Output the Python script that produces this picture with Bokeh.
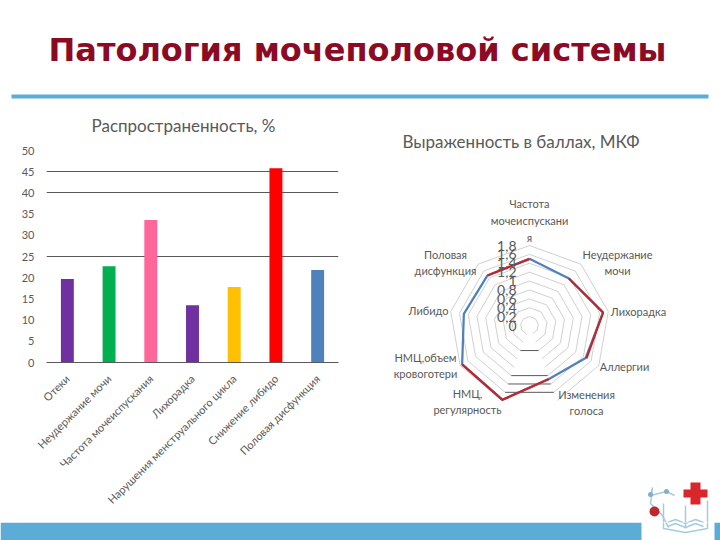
import math
from bokeh.core.properties import value
from bokeh.embed import file_html
from bokeh.layouts import column, row
from bokeh.models import FactorRange, FixedTicker, Range1d
from bokeh.plotting import figure
from bokeh.resources import INLINE

slide_title = "Патология мочеполовой системы"
bar_title = "Распространенность, %"
radar_title = "Выраженность в баллах, МКФ"

bar_categories = ["Отеки", "Неудержание мочи", "Частота мочеиспускания", "Лихорадка",
                  "Нарушения менструального цикла", "Снижение либидо", "Половая дисфункция"]
bar_values = [19.7, 22.7, 33.6, 13.5, 17.8, 45.8, 21.8]
bar_colors = ["#7030A0", "#00B050", "#FF6699", "#7030A0", "#FFC000", "#FF0000", "#4F81BD"]
bar_grid_ticks = [25, 40, 45, 50]
bar_y_ticks = [0, 5, 10, 15, 20, 25, 30, 35, 40, 45, 50]

radar_categories = ["Частота\nмочеиспускани\nя", "Неудержание\nмочи", "Лихорадка", "Аллергии",
                    "Изменения\nголоса", "НМЦ,\nрегулярность", "НМЦ,объем\nкровоготери",
                    "Либидо", "Половая\nдисфункция"]
radar_blue = [1.50, 1.38, 1.68, 1.46, 1.28, 1.78, 1.75, 1.50, 1.47]
radar_red = [1.50, 1.38, 1.68, 1.48, 1.28, 1.78, 1.75, 1.50, 1.47]
radar_red_runs = [[8, 0], [1, 2, 3], [4, 5, 6]]
radar_levels = [0.2, 0.4, 0.6, 0.8, 1.0, 1.2, 1.4, 1.6, 1.8]
radar_level_labels = ["0,2", "0,4", "0,6", "0,8", "1", "1,2", "1,4", "1,6", "1,8"]
radar_dark_levels = [0.6, 1.2, 1.4, 1.6]

BAND = "#5BADD8"
TXT = "#595959"
FONT = "Lato"


def spoke(v, i):
    a = 2 * math.pi * i / len(radar_categories)
    return v * math.sin(a), v * math.cos(a)


def bare(w, h, xr, yr):
    p = figure(width=w, height=h, x_range=Range1d(*xr), y_range=Range1d(*yr),
               output_backend="svg", toolbar_location=None,
               x_axis_location=None, y_axis_location=None,
               min_border=0, outline_line_color=None)
    p.grid.visible = False
    return p


def draw_logo(f):
    f.quad(left=[690, 683], right=[700, 707], top=[482, 489], bottom=[504, 497],
           fill_color="#D9262B", line_color=None)
    f.multi_line(xs=[[663, 663, 685, 707, 707], [685, 685], [667, 675, 685, 695, 703], [667, 675, 685, 695, 703]],
                 ys=[[503, 528, 532, 528, 500], [505, 528], [522, 519, 523, 519, 522], [526, 523, 527, 523, 526]],
                 line_color="#A5CCDD", line_width=1.5)
    f.line([650, 652, 650, 662, 668], [495, 487, 503, 515, 527], line_color="#A5CCDD", line_width=1.5)
    f.line([650, 666, 674], [495, 491, 495], line_color="#A5CCDD", line_width=1.5)
    f.scatter([654], [511], size=10, fill_color="#C0272D", line_color=None)
    f.scatter([650, 666], [494, 491], size=5, fill_color="#7FB0C8", line_color=None)


# header
head = bare(720, 112, (0, 720), (112, 0))
head.text([357], [49], text=[slide_title], text_font=value("DejaVu Sans"), text_font_style="bold",
          text_font_size="32px", text_color="#8B0A24", text_align="center", text_baseline="middle")
head.quad(left=[11], right=[708], top=[94], bottom=[98], fill_color=BAND, line_color=None)

# bar chart title strip
strip = bare(370, 26, (46, 338), (138, 112))
strip.min_border_left = 46
strip.min_border_right = 32
strip.text([91], [125], text=[bar_title], text_font=value(FONT), text_font_size="17px",
           text_color=TXT, text_align="left", text_baseline="middle")

# bars
bar = figure(width=370, height=384, x_range=FactorRange(factors=bar_categories, range_padding=0),
             y_range=Range1d(0, 50), output_backend="svg", toolbar_location=None,
             min_border_left=46, min_border_right=32, min_border_top=12, min_border_bottom=160,
             outline_line_color=None)
bar.vbar(x=bar_categories, top=bar_values, bottom=0, width=0.31, fill_color=bar_colors, line_color=None)
bar.xgrid.visible = False
bar.ygrid.ticker = FixedTicker(ticks=bar_grid_ticks)
bar.ygrid.grid_line_color = "#595959"
bar.ygrid.grid_line_width = 1
bar.yaxis.ticker = FixedTicker(ticks=bar_y_ticks)
bar.yaxis.axis_line_color = None
bar.yaxis.major_tick_line_color = None
bar.yaxis.minor_tick_line_color = None
bar.yaxis.major_label_text_font = FONT
bar.yaxis.major_label_text_font_size = "11px"
bar.yaxis.major_label_text_color = TXT
bar.yaxis.major_label_standoff = 6
bar.xaxis.axis_line_color = "#595959"
bar.xaxis.major_tick_line_color = None
bar.xaxis.minor_tick_line_color = None
bar.xaxis.major_label_orientation = math.pi / 4
bar.xaxis.major_label_text_font = FONT
bar.xaxis.major_label_text_font_size = "11px"
bar.xaxis.major_label_text_color = TXT
bar.xaxis.major_label_standoff = 8

# radar
PX = 80 / 1.8
CX, CY = 529, 325
radar = figure(width=350, height=368, output_backend="svg", toolbar_location=None,
               x_range=Range1d((370 - CX) / PX, (720 - CX) / PX),
               y_range=Range1d((CY - 480) / PX, (CY - 112) / PX),
               x_axis_location=None, y_axis_location=None,
               min_border=0, outline_line_color=None)
radar.grid.visible = False
radar.text([0], [0], text=[radar_title], x_offset=-127, y_offset=-184, text_font=value(FONT),
           text_font_size="17px", text_color=TXT, text_align="left", text_baseline="middle")

n = len(radar_categories)
for lv in radar_levels:
    pts = [spoke(lv, i % n) for i in range(5, n + 5)]
    radar.line([q[0] for q in pts], [q[1] for q in pts], line_color="#C4C4C4", line_width=0.8)
for lv in radar_dark_levels:
    a, b = spoke(lv, 4), spoke(lv, 5)
    radar.line([a[0], b[0]], [a[1], b[1]], line_color="#595959", line_width=1)

closed = list(range(n)) + [0]
radar.line([spoke(radar_blue[i], i)[0] for i in closed], [spoke(radar_blue[i], i)[1] for i in closed],
           line_color="#4F81BD", line_width=2.25)
for run in radar_red_runs:
    radar.line([spoke(radar_red[i], i)[0] for i in run], [spoke(radar_red[i], i)[1] for i in run],
               line_color="#C0272D", line_width=2.25)

radar.text([0] * (len(radar_levels) + 1), [0] + radar_levels, text=["0"] + radar_level_labels,
           text_font=value(FONT), text_font_size="14px", text_color=TXT,
           text_align="right", text_baseline="middle", x_offset=-13)

label_dx = [0, 88, 109, 95, 57, -62, -104, -101, -84]
label_dy = [-105, -63, -14, 41, 77, 76, 40, -15, -63]
radar.text([0] * n, [0] * n, text=radar_categories, x_offset=label_dx, y_offset=label_dy,
           text_font=value(FONT), text_font_size="11px", text_color=TXT,
           text_align="center", text_baseline="middle", text_line_height=1.3)

# logo and bottom band
logo_top = bare(350, 42, (370, 720), (522, 480))
draw_logo(logo_top)
foot = bare(720, 18, (0, 720), (540, 522))
foot.quad(left=[0, 714], right=[641, 720], top=[522, 522], bottom=[540, 540],
          fill_color=BAND, line_color=None)
draw_logo(foot)

page = column(head,
              row(column(strip, bar, spacing=0), column(radar, logo_top, spacing=0), spacing=0),
              foot, spacing=0)
open("out.html", "w").write(file_html(page, INLINE))
